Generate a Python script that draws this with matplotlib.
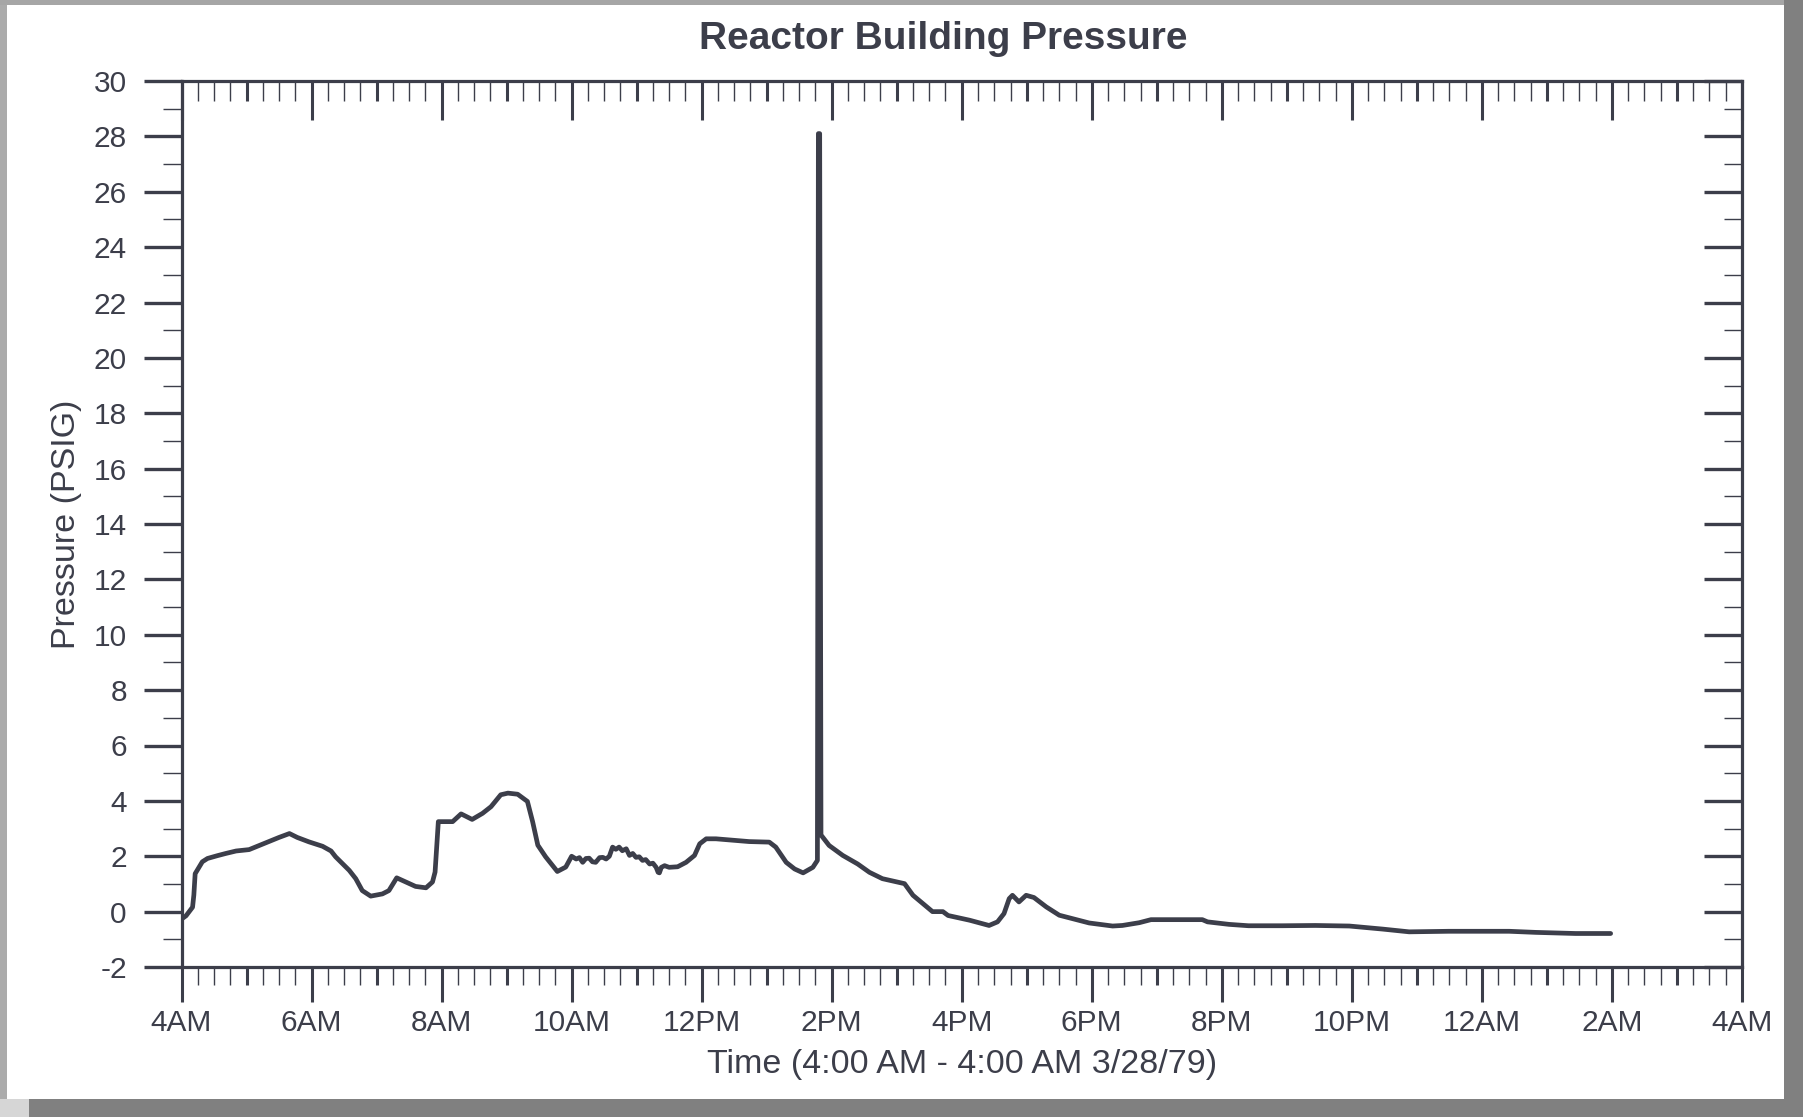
import matplotlib
matplotlib.use('Agg')
import matplotlib.pyplot as plt
from matplotlib.patches import Rectangle

plt.rcParams['font.family'] = ['Liberation Sans', 'DejaVu Sans']
plt.rcParams['axes.unicode_minus'] = False

# ---- data: hours after 4:00 AM (3/28/79) and reactor building pressure (psig)
hours = [0.00, 0.07, 0.17, 0.19, 0.21, 0.32, 0.40, 0.55, 0.68, 0.84, 1.04, 1.25,
         1.50, 1.66, 1.78, 1.96, 2.17, 2.30, 2.37, 2.58, 2.68, 2.78, 2.91, 3.09,
         3.19, 3.31, 3.45, 3.60, 3.76, 3.86, 3.90, 3.95, 4.17, 4.30, 4.47, 4.63,
         4.76, 4.91, 5.02, 5.17, 5.32, 5.40, 5.48, 5.60, 5.78, 5.91, 6.00,
         6.07, 6.12, 6.17, 6.22, 6.27, 6.32, 6.37, 6.43, 6.48, 6.53, 6.58, 6.63,
         6.68, 6.73, 6.78, 6.84, 6.89, 6.94, 6.99, 7.04, 7.09, 7.14, 7.20, 7.25,
         7.30, 7.33, 7.35, 7.38, 7.43, 7.50, 7.63, 7.76, 7.89, 7.97, 8.07, 8.22,
         8.53, 8.73, 9.04, 9.14, 9.30, 9.43, 9.56, 9.71, 9.78, 9.795, 9.815,
         9.835, 9.96, 10.17, 10.40, 10.58, 10.78, 11.12, 11.25, 11.55, 11.71,
         11.79, 12.12, 12.42, 12.55, 12.65, 12.73, 12.78, 12.88, 12.99, 13.11,
         13.30, 13.50, 13.76, 13.96, 14.32, 14.47, 14.73, 14.91, 15.40, 15.70,
         15.78, 16.11, 16.41, 16.93, 17.44, 17.96, 18.47, 18.88, 19.49, 20.42,
         20.83, 21.44, 21.98]
pressure = [-0.27, -0.15, 0.16, 0.60, 1.37, 1.80, 1.92, 2.02, 2.10, 2.19, 2.24, 2.44,
            2.68, 2.82, 2.68, 2.52, 2.36, 2.19, 1.98, 1.49, 1.19, 0.76, 0.56, 0.64,
            0.76, 1.22, 1.07, 0.91, 0.86, 1.07, 1.43, 3.25, 3.25, 3.53, 3.33, 3.55,
            3.79, 4.22, 4.28, 4.24, 3.98, 3.25, 2.40, 1.98, 1.45, 1.61, 2.00,
            1.90, 1.95, 1.78, 1.92, 1.93, 1.80, 1.78, 1.95, 1.96, 1.90, 2.00, 2.33,
            2.25, 2.33, 2.20, 2.27, 2.03, 2.10, 1.96, 1.98, 1.85, 1.88, 1.72, 1.75,
            1.60, 1.42, 1.40, 1.60, 1.66, 1.60, 1.62, 1.78, 2.03, 2.45, 2.63, 2.63,
            2.57, 2.53, 2.51, 2.33, 1.78, 1.54, 1.40, 1.60, 1.85, 28.1, 28.1,
            2.77, 2.39, 2.03, 1.72, 1.42, 1.19, 1.01, 0.59, 0.00, 0.00,
            -0.14, -0.31, -0.50, -0.37, -0.07, 0.47, 0.59, 0.35, 0.59, 0.51,
            0.17, -0.13, -0.29, -0.41, -0.52, -0.50, -0.40, -0.29, -0.29, -0.29,
            -0.37, -0.46, -0.51, -0.51, -0.50, -0.52, -0.63, -0.73, -0.71, -0.71,
            -0.75, -0.79, -0.79]

x_major = list(range(0, 25, 2))
x_labels = ['4AM', '6AM', '8AM', '10AM', '12PM', '2PM', '4PM', '6PM', '8PM',
            '10PM', '12AM', '2AM', '4AM']
x_hours = list(range(1, 24, 2))
x_quarters = [q / 4 for q in range(0, 97) if q % 4 != 0]
y_major = list(range(-2, 31, 2))
y_minor = list(range(-1, 30, 2))

title = 'Reactor Building Pressure'
xlabel = 'Time (4:00 AM - 4:00 AM 3/28/79)'
ylabel = 'Pressure (PSIG)'

INK = '#3c3e4a'
W, H = 1803, 1117

fig = plt.figure(figsize=(W / 100, H / 100), dpi=100)
fig.patch.set_facecolor('#808080')
# scanned page look
fig.add_artist(Rectangle((0, 1 - 1099 / H), 7 / W, 1099 / H, transform=fig.transFigure,
                         facecolor='#ababab', edgecolor='none', zorder=0))
fig.add_artist(Rectangle((0, 1 - 4.5 / H), 1784 / W, 4.5 / H, transform=fig.transFigure,
                         facecolor='#a6a6a6', edgecolor='none', zorder=0))
fig.add_artist(Rectangle((0, 0), 29 / W, 18 / H, transform=fig.transFigure,
                         facecolor='#d6d6d6', edgecolor='none', zorder=0))
fig.add_artist(Rectangle((7 / W, 1 - 1099 / H), (1784 - 7) / W, (1099 - 4.5) / H,
                         transform=fig.transFigure, facecolor='white',
                         edgecolor='none', zorder=0))

ax = fig.add_axes([181.5 / W, 1 - 967 / H, (1742 - 181.5) / W, (967 - 81) / H])
ax.set_facecolor('none')
ax.plot(hours, pressure, color=INK, lw=3.4, solid_joinstyle='round',
        solid_capstyle='round')
ax.set_xlim(0, 24)
ax.set_ylim(-2, 30)
for s in ax.spines.values():
    s.set_linewidth(2.3)
    s.set_color(INK)

ax.set_xticks(x_major)
ax.set_xticklabels(x_labels)
ax.set_xticks(x_quarters, minor=True)
ax.set_yticks(y_major)
ax.set_yticks(y_minor, minor=True)
ax.tick_params(axis='both', which='both', direction='out', colors=INK, labelsize=21.5)
ax.tick_params(axis='x', which='major', length=25, width=2.2, pad=5)
ax.tick_params(axis='x', which='minor', length=13, width=1.0)
ax.tick_params(axis='y', which='major', length=27.4, width=2.4, pad=12)
ax.tick_params(axis='y', which='minor', length=13.7, width=1.0)

# hour ticks on bottom (thicker)
secb = ax.secondary_xaxis('bottom')
secb.set_ticks(x_hours)
secb.tick_params(axis='x', which='both', direction='out', length=13, width=2.2,
                 color=INK, labelbottom=False)
secb.spines['bottom'].set_visible(False)

# top axis ticks, pointing inward
sect = ax.secondary_xaxis('top')
sect.set_ticks(x_major)
sect.set_ticks(x_quarters, minor=True)
sect.tick_params(axis='x', which='major', direction='in', length=28, width=2.2,
                 color=INK, labeltop=False)
sect.tick_params(axis='x', which='minor', direction='in', length=14.4, width=1.0,
                 color=INK)
sect.spines['top'].set_visible(False)
sect2 = ax.secondary_xaxis('top')
sect2.set_ticks(x_hours)
sect2.tick_params(axis='x', which='both', direction='in', length=14.4, width=2.2,
                  color=INK, labeltop=False)
sect2.spines['top'].set_visible(False)

# right axis ticks, pointing inward
secr = ax.secondary_yaxis('right')
secr.set_ticks(y_major)
secr.set_ticks(y_minor, minor=True)
secr.tick_params(axis='y', which='major', direction='in', length=27.4, width=2.4,
                 color=INK, labelright=False)
secr.tick_params(axis='y', which='minor', direction='in', length=13, width=1.0,
                 color=INK)
secr.spines['right'].set_visible(False)

ax.set_xlabel(xlabel, fontsize=24.5, labelpad=9, color=INK)
ax.set_ylabel(ylabel, fontsize=24.5, labelpad=8, color=INK)
fig.text(943.5 / W, 1 - 49 / H, title, ha='center', va='baseline',
         fontsize=28, fontweight='bold', color=INK)

fig.savefig('out.png', dpi=100, facecolor=fig.get_facecolor())
